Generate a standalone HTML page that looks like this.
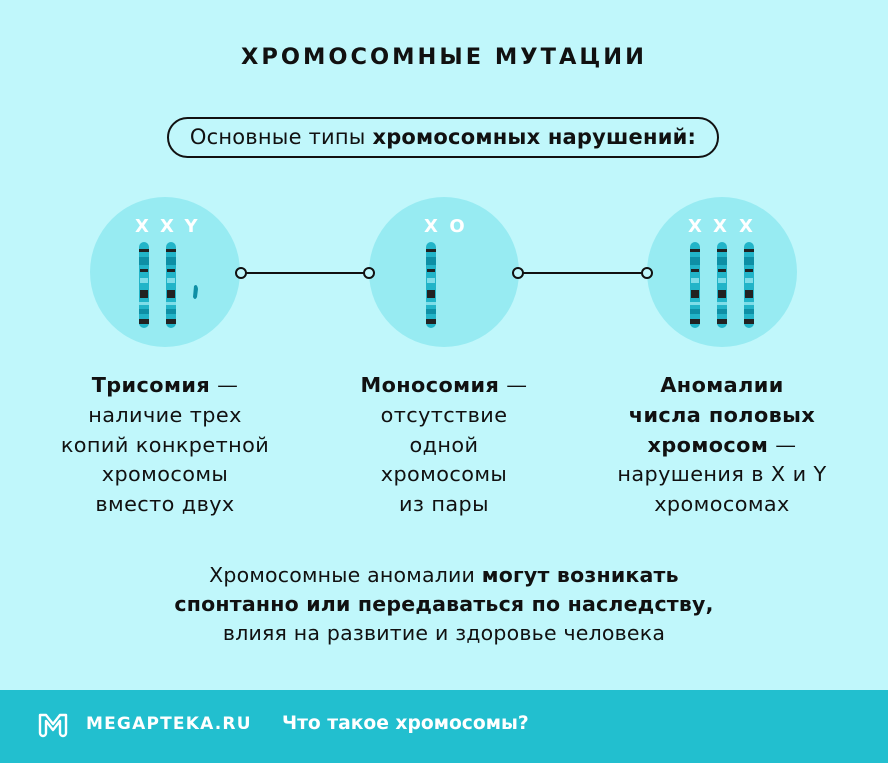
<!DOCTYPE html>
<html><head><meta charset="utf-8"><style>
body{margin:0;width:888px;height:763px;background:#c0f7fb;position:relative;font-family:"DejaVu Sans","Liberation Sans",sans-serif;color:#111;overflow:hidden}
.t{position:absolute;text-align:center}
.col{position:absolute;top:371px;width:300px;text-align:center;font-size:20.8px;line-height:29.8px;letter-spacing:0.4px}
</style></head><body>
<div class="t" style="left:0;width:888px;top:44px;font-size:22.5px;font-weight:bold;letter-spacing:3px">ХРОМОСОМНЫЕ МУТАЦИИ</div>
<div style="position:absolute;left:167px;top:117px;width:548px;height:37px;border:2px solid #111;border-radius:21px;text-align:center;font-size:21px;line-height:37px;letter-spacing:0.2px">Основные типы <b>хромосомных нарушений:</b></div>
<svg width="888" height="763" style="position:absolute;left:0;top:0">
<defs>
<g id="ch">
<rect x="-5" y="0" width="10" height="86" rx="5" fill="#22b4c8"/>
<rect x="-5" y="7" width="10" height="3" fill="#222"/>
<rect x="-5" y="15" width="10" height="8" fill="#0e8fa5"/>
<rect x="-4" y="27" width="8" height="3" fill="#222"/>
<rect x="-4" y="36" width="8" height="5" fill="#7fdde8"/>
<rect x="-4" y="48" width="8" height="8" fill="#222"/>
<rect x="-5" y="60" width="10" height="3" fill="#7fdde8"/>
<rect x="-5" y="67" width="10" height="5" fill="#0e8fa5"/>
<rect x="-5" y="77" width="10" height="5" fill="#222"/>
</g>
</defs>
<circle cx="165" cy="272" r="75" fill="#97ebf2"/>
<circle cx="444" cy="272" r="75" fill="#97ebf2"/>
<circle cx="722" cy="272" r="75" fill="#97ebf2"/>
<line x1="241" y1="273" x2="369" y2="273" stroke="#111" stroke-width="2"/>
<line x1="518" y1="273" x2="647" y2="273" stroke="#111" stroke-width="2"/>
<g fill="#c0f7fb" stroke="#111" stroke-width="2"><circle cx="241" cy="273" r="5"/><circle cx="369" cy="273" r="5"/><circle cx="518" cy="273" r="5"/><circle cx="647" cy="273" r="5"/></g>
<use href="#ch" x="144" y="242"/><use href="#ch" x="171" y="242"/>
<path d="M194 286 q3 -3 4 3 l-1 8 q-2 4 -4 0 z" fill="#0e8fa5"/>
<use href="#ch" x="431" y="242"/>
<use href="#ch" x="695" y="242"/><use href="#ch" x="722" y="242"/><use href="#ch" x="749" y="242"/>
<g fill="#fff" font-weight="bold" font-size="18" text-anchor="middle" font-family="DejaVu Sans,sans-serif">
<text x="142" y="232">X</text><text x="167" y="232">X</text><text x="191" y="232">Y</text>
<text x="431" y="232">X</text><text x="457" y="232">O</text>
<text x="695" y="232">X</text><text x="720" y="232">X</text><text x="746" y="232">X</text>
</g>
</svg>
<div class="col" style="left:15px"><b>Трисомия</b> —<br>наличие трех<br>копий конкретной<br>хромосомы<br>вместо двух</div>
<div class="col" style="left:294px"><b>Моносомия</b> —<br>отсутствие<br>одной<br>хромосомы<br>из пары</div>
<div class="col" style="left:572px"><b>Аномалии<br>числа половых<br>хромосом</b> —<br>нарушения в X и Y<br>хромосомах</div>
<div class="t" style="left:0;width:888px;top:561px;font-size:20.5px;line-height:29px;letter-spacing:0.2px">Хромосомные аномалии <b>могут возникать<br>спонтанно или передаваться по наследству,</b><br>влияя на развитие и здоровье человека</div>
<div style="position:absolute;left:0;top:690px;width:888px;height:73px;background:#22bfcf"></div>
<svg width="30" height="26" style="position:absolute;left:38px;top:713px" fill="none" stroke="#fff" stroke-width="2.4" stroke-linejoin="round"><path d="M2 2 h6 l7 9 l7 -9 h6 v18 a3 3 0 0 1 -6 0 v-12 l-7 9 l-7 -9 v12 a3 3 0 0 1 -6 0 z"/></svg>
<div style="position:absolute;left:86px;top:714px;color:#fff;font-weight:bold;font-size:17px;letter-spacing:1.2px">MEGAPTEKA.RU</div>
<div style="position:absolute;left:282px;top:713px;color:#fff;font-size:18.7px;font-weight:bold">Что такое хромосомы?</div>
</body></html>
